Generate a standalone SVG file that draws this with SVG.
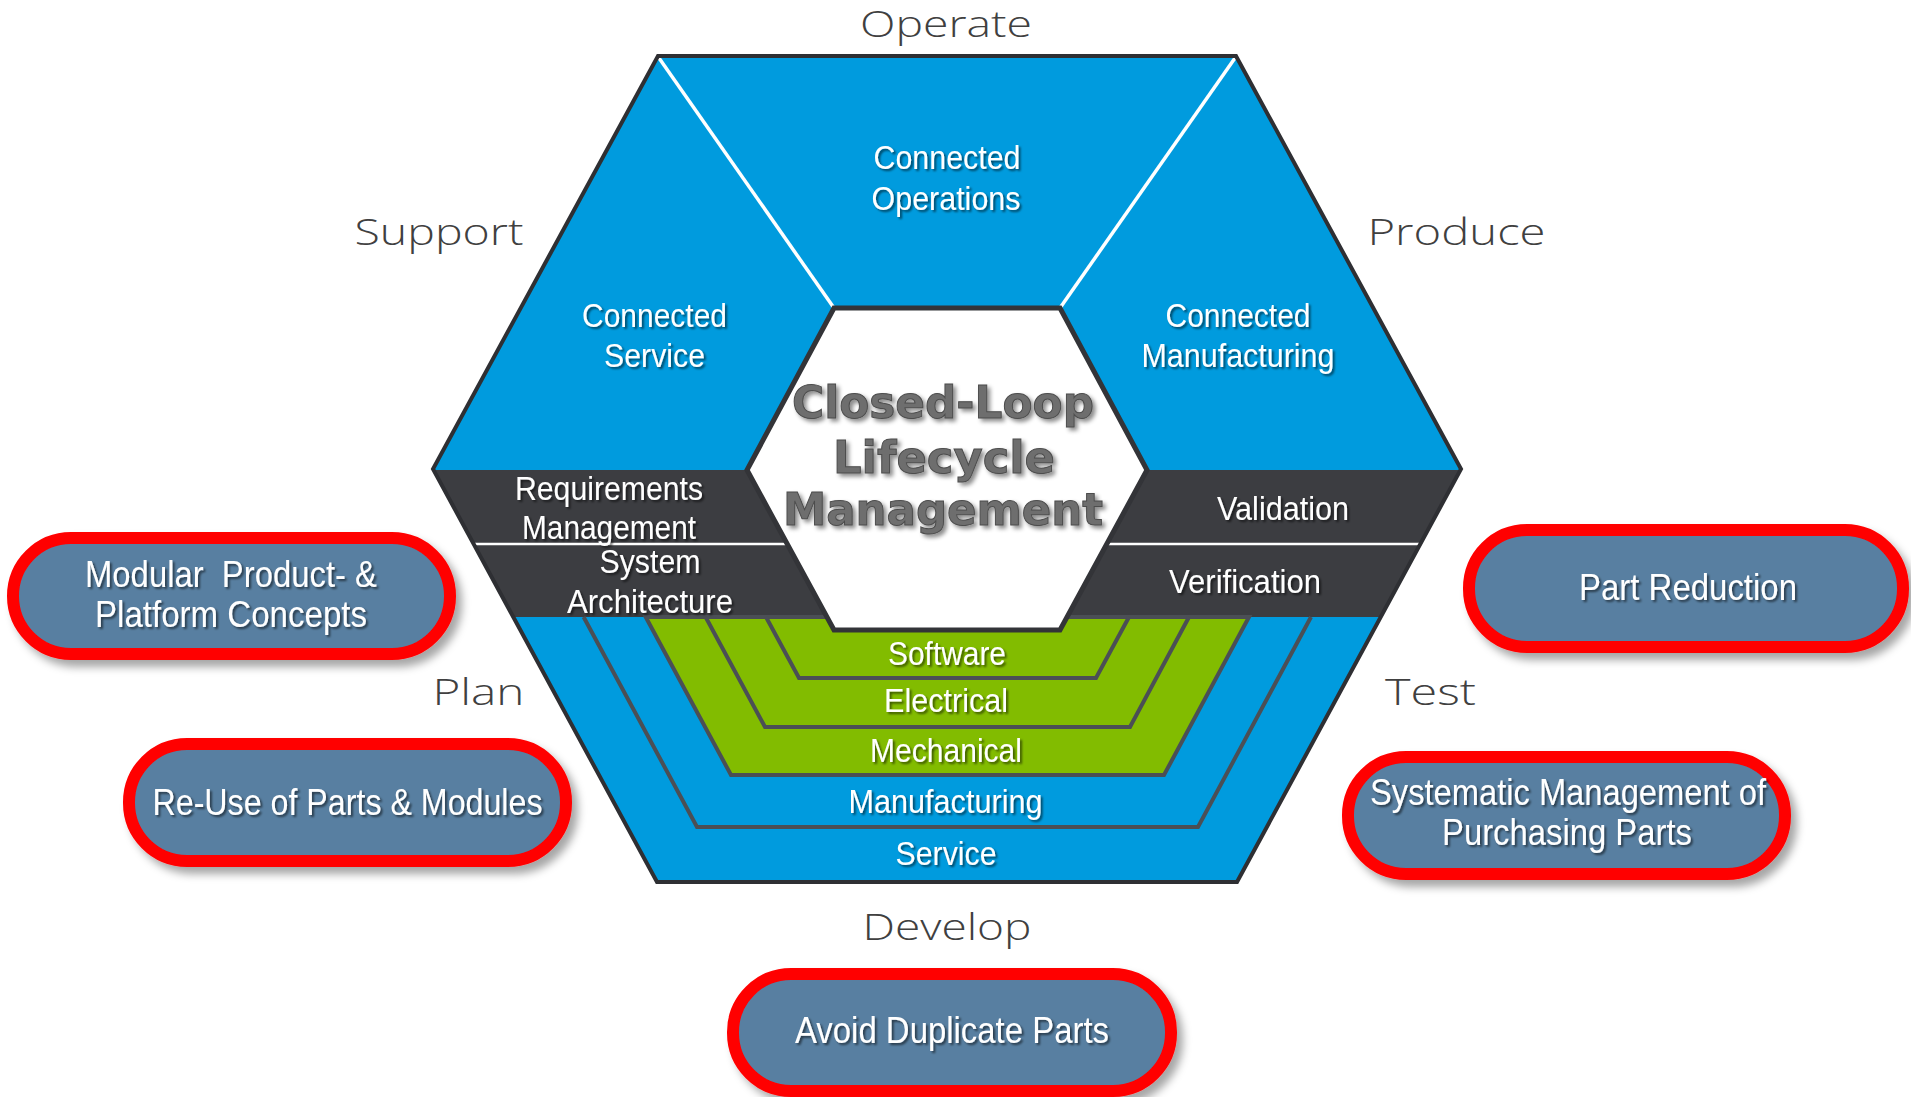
<svg xmlns="http://www.w3.org/2000/svg" width="1911" height="1097" viewBox="0 0 1911 1097">
<defs>
<filter id="ts" x="-10%" y="-30%" width="120%" height="160%">
<feDropShadow dx="2" dy="2" stdDeviation="1.2" flood-color="#000" flood-opacity="0.55"/>
</filter>
<filter id="cs" x="-10%" y="-30%" width="120%" height="160%">
<feDropShadow dx="3" dy="3" stdDeviation="2" flood-color="#000" flood-opacity="0.45"/>
</filter>
<filter id="ps" x="-10%" y="-20%" width="125%" height="150%">
<feDropShadow dx="6" dy="7" stdDeviation="4" flood-color="#000" flood-opacity="0.35"/>
</filter>
<style>
.phase{font-family:"Open Sans","Liberation Sans",sans-serif;font-weight:300;font-size:37px;fill:#404040;text-anchor:middle}
.hx{font-family:"Liberation Sans",Arial,sans-serif;font-size:33px;fill:#fff;text-anchor:middle;filter:url(#ts)}
.pt{font-family:"Liberation Sans",Arial,sans-serif;font-size:36px;fill:#fff;text-anchor:middle;filter:url(#ts)}
.ct{font-family:"DejaVu Sans",Verdana,sans-serif;font-weight:bold;font-size:44px;fill:#6e6e6e;stroke:#4d4d4d;stroke-width:1;text-anchor:middle;filter:url(#cs)}
.pill{fill:#587fa1;stroke:#ff0000;stroke-width:12}
.nest{fill:none;stroke:#4b4f55;stroke-width:4;stroke-linejoin:miter}
.green{fill:#82bc00;stroke:#4b4f55;stroke-width:4}
</style>
</defs>
<rect width="1911" height="1097" fill="#fff"/>

<g id="hexagon">
<polygon points="658,56 1236,56 1461,469 1237,882 657,882 433,469" fill="#009bde"/>
<polygon id="dark-band" points="433,470 1461,470 1381,617 513,617" fill="#3c3d41"/>
<line x1="473" y1="544" x2="1420" y2="544" stroke="#fff" stroke-width="2.5"/>
<polyline class="nest" points="583.6,617 697,827 1198,827 1311,617"/>
<polygon class="green" points="645.7,617 731,775 1164,775 1249,617"/>
<polyline class="nest" points="705.6,617 765,727 1130,727 1189,617"/>
<polyline class="nest" points="766,617 799,678 1096,678 1129,617"/>
<line x1="659" y1="58" x2="834" y2="308" stroke="#fff" stroke-width="3.5"/>
<line x1="1235" y1="58" x2="1060" y2="308" stroke="#fff" stroke-width="3.5"/>
<polygon points="658,56 1236,56 1461,469 1237,882 657,882 433,469" fill="none" stroke="#2e2f33" stroke-width="4"/>
</g>

<g id="center">
<polygon points="834,308 1060,308 1147,470 1060,630 834,630 747,470" fill="#fff" stroke="#333438" stroke-width="5"/>
<text class="ct" x="943" y="418" textLength="302" lengthAdjust="spacingAndGlyphs">Closed-Loop</text>
<text class="ct" x="944" y="473" textLength="222" lengthAdjust="spacingAndGlyphs">Lifecycle</text>
<text class="ct" x="943" y="525" textLength="320" lengthAdjust="spacingAndGlyphs">Management</text>
</g>

<g id="segment-labels">
<text class="hx" x="947" y="169" textLength="147" lengthAdjust="spacingAndGlyphs">Connected</text>
<text class="hx" x="946" y="210" textLength="149" lengthAdjust="spacingAndGlyphs">Operations</text>
<text class="hx" x="654.5" y="327" textLength="145" lengthAdjust="spacingAndGlyphs">Connected</text>
<text class="hx" x="654.5" y="367" textLength="101" lengthAdjust="spacingAndGlyphs">Service</text>
<text class="hx" x="1238" y="327" textLength="145" lengthAdjust="spacingAndGlyphs">Connected</text>
<text class="hx" x="1238" y="367" textLength="193" lengthAdjust="spacingAndGlyphs">Manufacturing</text>
<text class="hx" x="609" y="500" textLength="188" lengthAdjust="spacingAndGlyphs">Requirements</text>
<text class="hx" x="609" y="539" textLength="174" lengthAdjust="spacingAndGlyphs">Management</text>
<text class="hx" x="650" y="573" textLength="101" lengthAdjust="spacingAndGlyphs">System</text>
<text class="hx" x="650" y="613" textLength="166" lengthAdjust="spacingAndGlyphs">Architecture</text>
<text class="hx" x="1283" y="520" textLength="132" lengthAdjust="spacingAndGlyphs">Validation</text>
<text class="hx" x="1245" y="593" textLength="152" lengthAdjust="spacingAndGlyphs">Verification</text>
<text class="hx" x="947" y="665" textLength="118" lengthAdjust="spacingAndGlyphs">Software</text>
<text class="hx" x="946" y="712" textLength="124" lengthAdjust="spacingAndGlyphs">Electrical</text>
<text class="hx" x="946" y="762" textLength="152" lengthAdjust="spacingAndGlyphs">Mechanical</text>
<text class="hx" x="945.5" y="813" textLength="194" lengthAdjust="spacingAndGlyphs">Manufacturing</text>
<text class="hx" x="946" y="865" textLength="101" lengthAdjust="spacingAndGlyphs">Service</text>
</g>

<g id="phases">
<text class="phase" x="946" y="37" textLength="172" lengthAdjust="spacingAndGlyphs">Operate</text>
<text class="phase" x="439" y="245" textLength="169" lengthAdjust="spacingAndGlyphs">Support</text>
<text class="phase" x="1456.5" y="245" textLength="178" lengthAdjust="spacingAndGlyphs">Produce</text>
<text class="phase" x="478.4" y="705" textLength="92" lengthAdjust="spacingAndGlyphs">Plan</text>
<text class="phase" x="1430.5" y="705" textLength="91" lengthAdjust="spacingAndGlyphs">Test</text>
<text class="phase" x="947" y="940" textLength="169" lengthAdjust="spacingAndGlyphs">Develop</text>
</g>

<g id="connectors"></g>

<g id="pill-modular">
<rect class="pill" x="13" y="538" width="437" height="116" rx="58" filter="url(#ps)"/>
<text class="pt" x="231" y="587" textLength="292" lengthAdjust="spacingAndGlyphs" xml:space="preserve">Modular  Product- &amp;</text>
<text class="pt" x="231" y="627" textLength="272" lengthAdjust="spacingAndGlyphs">Platform Concepts</text>
</g>
<g id="pill-reuse">
<rect class="pill" x="129" y="744" width="437" height="117" rx="58" filter="url(#ps)"/>
<text class="pt" x="347.5" y="815" textLength="390" lengthAdjust="spacingAndGlyphs">Re-Use of Parts &amp; Modules</text>
</g>
<g id="pill-part-reduction">
<rect class="pill" x="1469" y="530" width="434" height="117" rx="58" filter="url(#ps)"/>
<text class="pt" x="1688" y="600" textLength="218" lengthAdjust="spacingAndGlyphs">Part Reduction</text>
</g>
<g id="pill-purchasing">
<rect class="pill" x="1348" y="757" width="437" height="117" rx="58" filter="url(#ps)"/>
<text class="pt" x="1568" y="805" textLength="396" lengthAdjust="spacingAndGlyphs">Systematic Management of</text>
<text class="pt" x="1567" y="845" textLength="250" lengthAdjust="spacingAndGlyphs">Purchasing Parts</text>
</g>
<g id="pill-duplicate">
<rect class="pill" x="733" y="974" width="438" height="117" rx="58" filter="url(#ps)"/>
<text class="pt" x="952" y="1043" textLength="314" lengthAdjust="spacingAndGlyphs">Avoid Duplicate Parts</text>
</g>
</svg>
